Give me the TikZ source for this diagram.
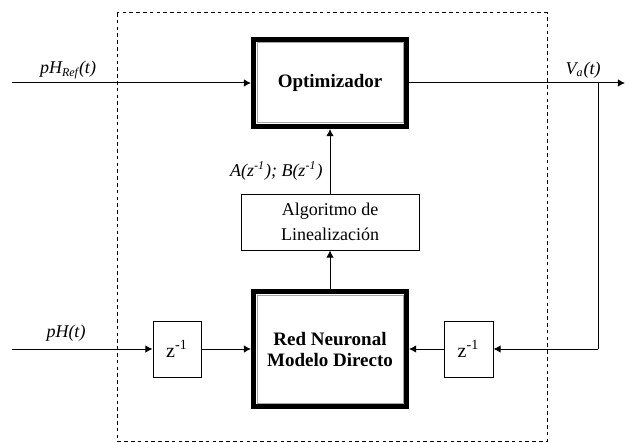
\documentclass[tikz,border=0pt]{standalone}
\usepackage{fontspec}
\setmainfont{Liberation Serif}
\usetikzlibrary{arrows.meta}

\begin{document}
\begin{tikzpicture}[x=0.5pt,y=-0.5pt,>={Latex[length=3.6pt,width=3.8pt]},line width=0.5pt,
                font=\fontsize{9}{12.5}\selectfont]
                \useasboundingbox (0,0) rectangle (630,443);
                \draw[dash pattern=on 1.8pt off 1.6pt] (117,13) rectangle (547,441);
                \begin{scope}[every node/.style={draw=black,fill=white,inner sep=0pt,align=center}]
                    \node (opt) [line width=2.5pt,minimum width=76.5pt,minimum height=43.5pt,font=\fontsize{9.5}{10}\selectfont\bfseries] at (330,83) {Optimizador};
                    \node (alg) [minimum width=89pt,minimum height=28pt] at (330,222) {Algoritmo de\\Linealización};
                    \node (red) [line width=2.5pt,minimum width=76.5pt,minimum height=57.5pt,font=\fontsize{9.5}{10.5}\selectfont\bfseries] at (330,349) {Red Neuronal\\Modelo Directo};
                    \node (z1) [minimum width=24pt,minimum height=28pt,font=\fontsize{10}{12}\selectfont] at (177,349) {z\textsuperscript{-1}};
                    \node (z2) [minimum width=24.5pt,minimum height=28pt,font=\fontsize{10}{12}\selectfont] at (468.5,349) {z\textsuperscript{-1}};
                \end{scope}
                \draw[gray!70] ([shift={(3pt,-3pt)}]opt.north west) rectangle ([shift={(-3pt,3pt)}]opt.south east);
                \draw[gray!70] ([shift={(3pt,-3pt)}]red.north west) rectangle ([shift={(-3pt,3pt)}]red.south east);
                \begin{scope}[every node/.style={font=\fontsize{9}{10}\selectfont\itshape,inner sep=0pt}]
                    \node (pHref) at (68,70) {pH\textsubscript{Ref}(t)};
                    \node (va) at (583,70) {V\textsubscript{a}(t)};
                    \node (ph) at (66,333) {pH(t)};
                    \node (ab) [anchor=east] at (323,171) {A(z\textsuperscript{-1}); B(z\textsuperscript{-1})};
                \end{scope}
                \coordinate (inA) at (12,83);
                \coordinate (outA) at (625,83);
                \coordinate (br) at (598,83);
                \coordinate (inB) at (12,349);
                \coordinate (fb) at (598,349);
                \draw (inA) edge [->] (opt.west);
                \draw (opt.east) edge [->] (outA);
                \draw (br) edge (fb);
                \draw (fb) edge [->] (z2.east);
                \draw (z2.west) edge [->] (red.east);
                \draw (inB) edge [->] (z1.west);
                \draw (z1.east) edge [->] (red.west);
                \draw (red.north) edge [->] (alg.south);
                \draw (alg.north) edge [->] (opt.south);
\end{tikzpicture}
\end{document}
